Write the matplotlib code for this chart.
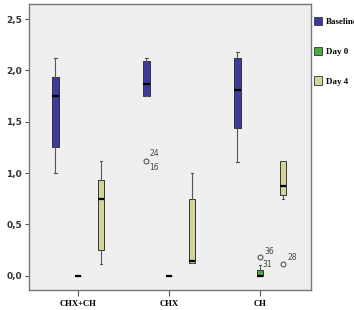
import matplotlib
matplotlib.use("Agg")
import matplotlib.pyplot as plt
from matplotlib.patches import Patch

groups = ["CHX+CH", "CHX", "CH"]
series = ["Baseline", "Day 0", "Day 4"]
colors = ["#3b3b9e", "#4caa44", "#d3d39b"]

# per series: one value per group
whislo = {"Baseline": [1.00, 1.75, 1.11], "Day 0": [0.0, 0.0, 0.0], "Day 4": [0.11, 0.12, 0.75]}
q1 = {"Baseline": [1.25, 1.75, 1.44], "Day 0": [0.0, 0.0, 0.0], "Day 4": [0.25, 0.12, 0.785]}
med = {"Baseline": [1.75, 1.87, 1.81], "Day 0": [0.0, 0.0, 0.0], "Day 4": [0.746, 0.146, 0.87]}
q3 = {"Baseline": [1.94, 2.09, 2.12], "Day 0": [0.0, 0.0, 0.058], "Day 4": [0.93, 0.75, 1.12]}
whishi = {"Baseline": [2.12, 2.12, 2.18], "Day 0": [0.0, 0.0, 0.105], "Day 4": [1.12, 1.00, 1.12]}

# outliers: (series, group index, value, case labels)
outliers = [
    ("Baseline", 1, 1.12, ["24", "16"]),
    ("Day 0", 2, 0.18, ["36"]),
    ("Day 4", 2, 0.115, ["28"]),
]
whisker_labels = [("Day 0", 2, 0.105, "31")]

offsets = [-0.25, 0.0, 0.25]

fig = plt.figure(figsize=(3.54, 3.10), dpi=100)
ax = fig.add_axes([0.082, 0.065, 0.797, 0.922])
ax.set_facecolor("#efefef")

for s, off, col in zip(series, offsets, colors):
    stats = []
    for i in range(len(groups)):
        stats.append(dict(whislo=whislo[s][i], q1=q1[s][i], med=med[s][i],
                          q3=q3[s][i], whishi=whishi[s][i], fliers=[]))
    pos = [i + off for i in range(len(groups))]
    ax.bxp(stats, positions=pos, widths=0.07, patch_artist=True,
           showfliers=False, capwidths=0.025,
           boxprops=dict(facecolor=col, edgecolor="#333333", linewidth=0.7),
           medianprops=dict(color="black", linewidth=1.6),
           whiskerprops=dict(color="#555555", linewidth=0.8),
           capprops=dict(color="#555555", linewidth=0.8))

for s, gi, v, labs in outliers:
    x = gi + offsets[series.index(s)]
    ax.plot(x, v, "o", mfc="none", mec="#555555", ms=3.5, mew=0.8)
    if len(labs) == 2:
        ax.text(x + 0.03, v + 0.07, labs[0], fontsize=5.5, color="#444444", va="center")
        ax.text(x + 0.03, v - 0.07, labs[1], fontsize=5.5, color="#444444", va="center")
    else:
        ax.text(x + 0.05, v + 0.06, labs[0], fontsize=5.5, color="#444444", va="center")

for s, gi, v, lab in whisker_labels:
    x = gi + offsets[series.index(s)]
    ax.text(x + 0.02, v, lab, fontsize=5.5, color="#444444", va="center")

ax.set_xlim(-0.54, 2.56)
ax.set_ylim(-0.137, 2.646)
ax.set_xticks(range(len(groups)))
ax.set_xticklabels(groups, family="Liberation Serif", fontweight="bold", fontsize=6.2)
yt = [0.0, 0.5, 1.0, 1.5, 2.0, 2.5]
ax.set_yticks(yt)
ax.set_yticklabels([f"{v:.1f}".replace(".", ",") for v in yt],
                   fontweight="bold", fontsize=6.5, color="#333333")
ax.tick_params(length=3, width=0.8, color="#555555", pad=2)
ax.tick_params(axis="x", length=4, pad=3)
for sp in ax.spines.values():
    sp.set_color("#777777")
    sp.set_linewidth(1.0)

handles = [Patch(facecolor=c, edgecolor="#333333", linewidth=0.6) for c in colors]
leg = fig.legend(handles, series, loc="upper left", bbox_to_anchor=(0.878, 0.958),
                 frameon=False, handlelength=0.8, handleheight=1.0, handletextpad=0.5,
                 labelspacing=2.3, borderaxespad=0,
                 prop=dict(family="Liberation Serif", weight="bold", size=6.5))

fig.savefig("out.png", dpi=100)
